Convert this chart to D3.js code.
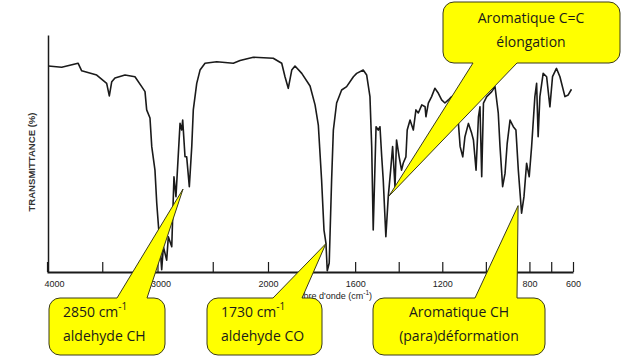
<!DOCTYPE html>
<html><head><meta charset="utf-8">
<script src="https://cdn.jsdelivr.net/npm/d3@7"></script>
<style>body{margin:0;background:#fff}svg{display:block}</style>
</head><body><svg id="c" width="628" height="358"></svg>
<script>
// ---- data ----
const wavenumbers = [3988,3867,3719,3686,3550,3520,3460,3436,3414,3385,
3294,3204,3143,3113,3098,3068,3052,3023,3007,2984,
2962,2947,2917,2902,2871,2851,2833,2796,2781,2772,
2751,2736,2712,2690,2676,2645,2615,2570,2464,2314,
2253,2133,1976,1937,1922,1907,1891,1876,1845,1807,
1784,1769,1754,1743,1734,1728,1719,1708,1700,1685,
1662,1639,1608,1593,1563,1547,1532,1524,1517,1504,
1494,1486,1478,1471,1459,1448,1437,1428,1417,1410,
1398,1387,1379,1367,1361,1348,1333,1321,1310,1294,
1279,1275,1264,1249,1234,1218,1203,1188,1172,1157,
1142,1126,1118,1106,1096,1080,1065,1057,1045,1034,
1027,1019,1011,996,973,958,943,935,923,912,
902,889,874,862,851,836,825,813,801,790,
775,767,760,752,737,721,706,694,676,660,
637,622,607];
const transmittance = [86.9,86.4,88.1,84.9,83.1,81.9,79.6,74.3,80.3,81.9,
83.1,82.4,78.2,76.1,68.4,65,52.9,43,29.1,14.9,
1,10.7,5,14.9,10.7,40.2,31.8,62.7,59.9,64.1,
48.6,48.6,36,52.9,68.4,79.6,85.2,88.1,88.7,88.1,
89.2,90.6,90.2,88.1,82.4,77.5,85.2,86.9,83.8,78.5,
70.5,62,38.8,17.7,12.2,0.5,3.8,38.8,59.9,71.3,
76.8,78.2,82.4,83.8,85.2,83.1,74,52.9,17.7,61.3,
59.9,61.3,48.6,38.8,14.9,31.8,43,52.9,36,55.7,
48.6,43,46,48.6,59.9,64.1,59.9,68.4,67.1,70.5,
69.7,65.5,71.3,74,77.5,75.4,72.6,71.3,72.6,74,
71.9,62.7,52.9,48.6,57.1,62.7,58.5,55.7,43,65.5,
69.7,40.2,71.3,74,76.1,78.2,67,52.9,36,41.6,
54.3,64.1,61.3,59.9,43,24.8,31.8,45.9,40.2,52.9,
74,79.6,57.1,74,83.8,82.4,69.7,82.4,85.9,82.4,
74,74.7,77.1];
const tickValues = [4000,3500,3000,2500,2000,1600,1400,1200,1000,800,700,600];
const tickLabelValues = [4000,3000,2000,1600,1200,800,600];
const xTitle = "Nombre d'onde (cm";
const yTitle = "TRANSMITTANCE (%)";
// callouts: first line, superscript on first line, second line, tip (wavenumber, %T)
const calloutLine1 = ["2850 cm", "1730 cm", "Aromatique C=C", "Aromatique CH"];
const calloutSup   = ["-1", "-1", "", ""];
const calloutLine2 = ["aldehyde CH", "aldehyde CO", "élongation", "(para)déformation"];
const calloutTipWn = [2769, 1734, 1445, 852];
const calloutTipT  = [35, 12, 32, 28];

// ---- layout ----
const svg = d3.select("#c");
const x = d3.scaleLinear().domain([4000, 2000, 600]).range([47, 268, 573]);
const y = d3.scaleLinear().domain([0, 100]).range([272, 35]);
const ink = "#1a1a1a";

// axes
const xAxis = d3.axisBottom(x).tickValues(tickValues).tickSize(-10).tickSizeOuter(0)
  .tickPadding(9).tickFormat(d => tickLabelValues.includes(d) ? String(d) : "");
const gx = svg.append("g").attr("transform", `translate(0,${y(0)})`).call(xAxis);
gx.select(".domain").attr("stroke", ink).attr("stroke-width", 1.8);
gx.selectAll(".tick line").attr("stroke", ink).attr("stroke-width", 1.2);
gx.selectAll(".tick text").attr("fill", "#222").attr("font-family", "Liberation Sans, Arial, sans-serif")
  .attr("font-size", 9);
gx.selectAll(".tick text").filter(d => d === 4000).attr("dx", 7);
gx.selectAll(".tick text").filter(d => d === 3000).attr("dx", 3);

const yAxis = d3.axisLeft(y).tickValues([]).tickSizeOuter(0);
const gy = svg.append("g").attr("transform", `translate(${x(4000)+1},0)`).call(yAxis);
gy.select(".domain").attr("stroke", ink).attr("stroke-width", 1.5);

// axis titles
const xt = svg.append("text").attr("x", 372).attr("y", 299).attr("text-anchor", "end")
  .attr("font-family", "Liberation Sans, Arial, sans-serif").attr("font-size", 9).attr("fill", "#222");
xt.append("tspan").text(xTitle);
xt.append("tspan").attr("dy", -4).attr("font-size", 6.5).text("-1");
xt.append("tspan").attr("dy", 4).text(")");

svg.append("text").attr("transform", "translate(35,162) rotate(-90)").attr("text-anchor", "middle")
  .attr("font-family", "Liberation Sans, Arial, sans-serif").attr("font-size", 9)
  .attr("font-weight", "bold").attr("fill", "#333")
  .attr("textLength", 99).attr("lengthAdjust", "spacingAndGlyphs").text(yTitle);

// spectrum
const pts = wavenumbers.map((w, i) => [w, transmittance[i]]);
svg.append("path").datum(pts)
  .attr("d", d3.line().x(d => x(d[0])).y(d => y(d[1])))
  .attr("fill", "none").attr("stroke", ink).attr("stroke-width", 1.6)
  .attr("stroke-linejoin", "round");

// callouts
const boxes = [
  {x: 49,  y: 298, w: 116, h: 57, b0: 117, b1: 147, side: "top", anchor: "start", tx: 63},
  {x: 207, y: 298, w: 115, h: 57, b0: 273, b1: 302, side: "top", anchor: "start", tx: 221},
  {x: 443, y: 2,   w: 177, h: 61, b0: 473, b1: 517, side: "bottom", anchor: "middle", tx: 531},
  {x: 373, y: 298, w: 172, h: 57, b0: 475, b1: 517, side: "top", anchor: "middle", tx: 459}
];
const r = 11;
function calloutPath(b, tx, ty) {
  const X = b.x, Y = b.y, W = b.w, H = b.h;
  if (b.side === "top") {
    return `M${X+r},${Y} L${b.b0},${Y} L${tx},${ty} L${b.b1},${Y} L${X+W-r},${Y}
      A${r},${r} 0 0 1 ${X+W},${Y+r} L${X+W},${Y+H-r} A${r},${r} 0 0 1 ${X+W-r},${Y+H}
      L${X+r},${Y+H} A${r},${r} 0 0 1 ${X},${Y+H-r} L${X},${Y+r} A${r},${r} 0 0 1 ${X+r},${Y} Z`;
  }
  return `M${X+r},${Y} L${X+W-r},${Y} A${r},${r} 0 0 1 ${X+W},${Y+r} L${X+W},${Y+H-r}
    A${r},${r} 0 0 1 ${X+W-r},${Y+H} L${b.b1},${Y+H} L${tx},${ty} L${b.b0},${Y+H}
    L${X+r},${Y+H} A${r},${r} 0 0 1 ${X},${Y+H-r} L${X},${Y+r} A${r},${r} 0 0 1 ${X+r},${Y} Z`;
}
boxes.forEach((b, i) => {
  const g = svg.append("g");
  g.append("path").attr("d", calloutPath(b, x(calloutTipWn[i]), y(calloutTipT[i])))
    .attr("fill", "#ffff00").attr("stroke", "#3a3a1a").attr("stroke-width", 1);
  const base1 = b.side === "top" ? b.y + 19 : b.y + 21;
  const t1 = g.append("text").attr("x", b.tx).attr("y", base1).attr("text-anchor", b.anchor)
    .attr("font-family", "Open Sans, sans-serif").attr("font-size", 14).attr("fill", "#1a1a1a");
  t1.append("tspan").text(calloutLine1[i]);
  if (calloutSup[i]) t1.append("tspan").attr("dy", -7).attr("font-size", 10).text(calloutSup[i]);
  g.append("text").attr("x", b.tx).attr("y", base1 + 24).attr("text-anchor", b.anchor)
    .attr("font-family", "Open Sans, sans-serif").attr("font-size", 14).attr("fill", "#1a1a1a")
    .text(calloutLine2[i]);
});
</script></body></html>
